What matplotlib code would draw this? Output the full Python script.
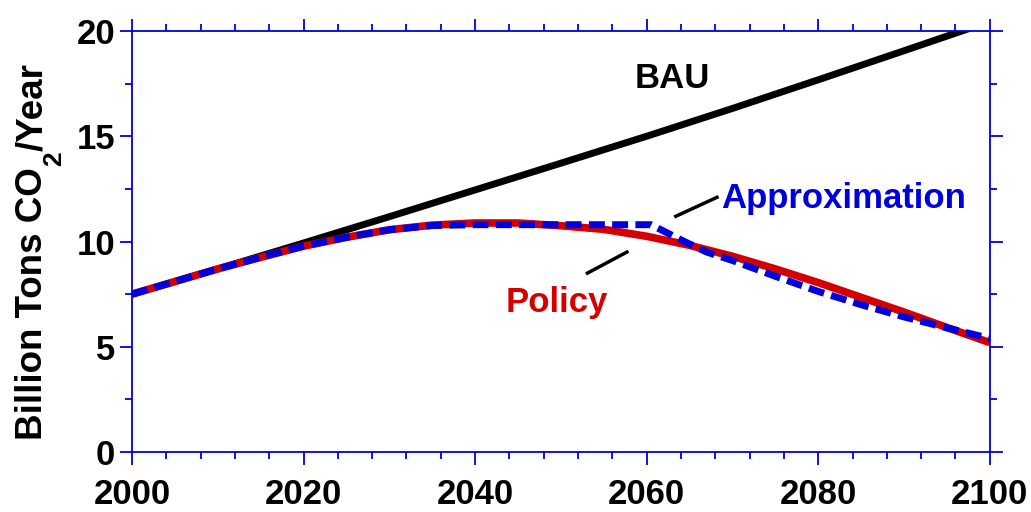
import matplotlib
matplotlib.use("Agg")
import matplotlib.pyplot as plt
from matplotlib.ticker import MultipleLocator
from matplotlib.transforms import IdentityTransform

# data
bau_years = [2000, 2010, 2020, 2030, 2040, 2050, 2060, 2070, 2080, 2090, 2100]
bau_vals = [7.5, 8.7, 9.93, 11.18, 12.45, 13.72, 15.0, 16.32, 17.68, 19.06, 20.45]

policy_years = [2000, 2005, 2010, 2015, 2020, 2025, 2030, 2035, 2040, 2045, 2050,
                2055, 2060, 2065, 2070, 2075, 2080, 2085, 2090, 2095, 2100]
policy_vals = [7.5, 8.1, 8.7, 9.25, 9.78, 10.2, 10.56, 10.78, 10.88, 10.88, 10.75,
               10.58, 10.25, 9.82, 9.3, 8.7, 8.05, 7.35, 6.65, 5.92, 5.2]

approx_years = [2000, 2005, 2010, 2015, 2020, 2025, 2030, 2035, 2040, 2050, 2060.5,
                2064.5, 2067, 2070, 2075, 2080, 2085, 2090, 2095, 2100]
approx_vals = [7.5, 8.1, 8.7, 9.25, 9.78, 10.2, 10.56, 10.76, 10.8, 10.8, 10.8,
               9.98, 9.5, 9.1, 8.35, 7.63, 7.0, 6.42, 5.9, 5.4]

blue = "#0000dd"
red = "#d40000"

plt.rcParams['font.family'] = ['Liberation Sans', 'DejaVu Sans']
plt.rcParams['font.weight'] = 'bold'

fig = plt.figure(figsize=(10.31, 5.12), dpi=100)
ax = fig.add_axes([0.128, 0.117, 0.832, 0.8225])

ax.plot(bau_years, bau_vals, color="black", lw=5, solid_capstyle="butt")
ax.plot(policy_years, policy_vals, color=red, lw=5.5, solid_capstyle="butt")
ax.plot(approx_years, approx_vals, color=blue, lw=5, dashes=(2.3, 1.05))

ax.set_xlim(2000, 2100)
ax.set_ylim(0, 20)
ax.xaxis.set_major_locator(MultipleLocator(20))
ax.xaxis.set_minor_locator(MultipleLocator(4))
ax.yaxis.set_major_locator(MultipleLocator(5))
ax.yaxis.set_minor_locator(MultipleLocator(2.5))

for s in ax.spines.values():
    s.set_color(blue)
    s.set_linewidth(1.3)
ax.tick_params(which="both", direction="out", color=blue, width=1.3,
               top=True, right=True, labelsize=25)
ax.tick_params(which="major", length=9)
ax.tick_params(which="minor", length=5)
ax.tick_params(axis="x", pad=10)
ax.tick_params(axis="y", pad=3)
for lab in ax.get_xticklabels() + ax.get_yticklabels():
    lab.set_fontweight("bold")

# y label built from pieces so the subscript sits low like the original
fig.canvas.draw()
rend = fig.canvas.get_renderer()
px = IdentityTransform()
t1 = fig.text(42, 72, "Billion Tons CO", rotation=90, rotation_mode="anchor",
              ha="left", va="baseline", fontsize=26.5, fontweight="bold", transform=px)
bb1 = t1.get_window_extent(rend)
t2 = fig.text(61, bb1.y1 + 1, "2", rotation=90, rotation_mode="anchor",
              ha="left", va="baseline", fontsize=19, fontweight="bold", transform=px)
bb2 = t2.get_window_extent(rend)
fig.text(42, bb2.y1 + 1, "/Year", rotation=90, rotation_mode="anchor",
         ha="left", va="baseline", fontsize=26.5, fontweight="bold", transform=px)

ax.text(2063, 17.75, "BAU", fontsize=25, fontweight="bold", color="black", ha="center", va="center")
ax.text(2083, 12.05, "Approximation", fontsize=25, fontweight="bold", color=blue, ha="center", va="center")
ax.text(2049.5, 7.1, "Policy", fontsize=25, fontweight="bold", color=red, ha="center", va="center")
ax.plot([2063.4, 2068.2], [11.2, 12.1], color="black", lw=2.5)
ax.plot([2053.1, 2057.7], [8.5, 9.5], color="black", lw=2.5)

fig.savefig("out.png", dpi=100)
